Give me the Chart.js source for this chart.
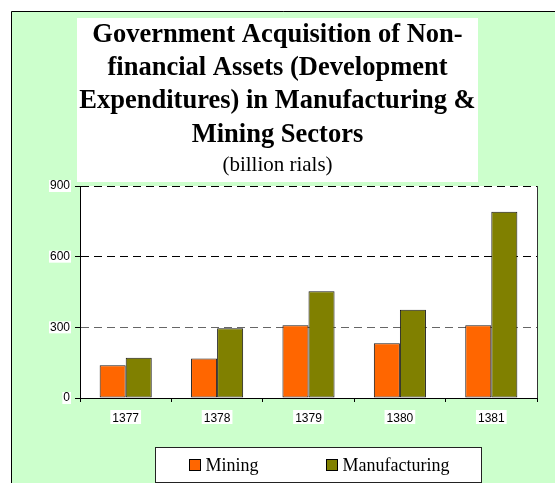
<!DOCTYPE html>
<html>
<head>
<meta charset="utf-8">
<script src="https://cdn.jsdelivr.net/npm/chart.js@4/dist/chart.umd.min.js"></script>
<style>
  html, body { margin: 0; padding: 0; background: #fff; }
  #wrap { width: 555px; height: 483px; position: relative; }
</style>
</head>
<body>
<div id="wrap"><canvas id="c" width="555" height="483"></canvas></div>
<script>
const categories = ["1377", "1378", "1379", "1380", "1381"];
const miningValues = [139, 168, 309, 232, 309];
const manufacturingValues = [171, 296, 453, 375, 791];
const yTicks = [0, 300, 600, 900];
const titleLines = ["Government Acquisition of Non-", "financial Assets (Development", "Expenditures) in Manufacturing &", "Mining Sectors"];
const subtitleText = "(billion rials)";
const seriesNames = ["Mining", "Manufacturing"];
const seriesColors = ["#FF6600", "#808000"];

const backgroundPlugin = {
  id: 'bg',
  beforeDraw(chart) {
    const ctx = chart.ctx;
    const ca = chart.chartArea;
    ctx.save();
    ctx.fillStyle = '#ffffff';
    ctx.fillRect(0, 0, chart.width, chart.height);
    ctx.fillStyle = '#CCFFCC';
    ctx.fillRect(11, 11, chart.width, chart.height);
    ctx.strokeStyle = '#000';
    ctx.lineWidth = 1;
    ctx.beginPath();
    ctx.moveTo(11.5, chart.height + 2);
    ctx.lineTo(11.5, 11.5);
    ctx.lineTo(chart.width + 2, 11.5);
    ctx.stroke();
    // title white box
    ctx.fillStyle = '#fff';
    ctx.fillRect(77, 18, 401, 164);
    // plot area
    ctx.fillRect(ca.left, ca.top, ca.right - ca.left, ca.bottom - ca.top);
    // tick label backgrounds
    ctx.font = '12px "Liberation Sans", Arial, sans-serif';
    const ys = chart.scales.y;
    ys.ticks.forEach((t, i) => {
      const label = String(t.value);
      const w = ctx.measureText(label).width;
      const py = ys.getPixelForTick(i);
      ctx.fillRect(ca.left - 10 - w - 1, py - 6, w + 2, 12);
    });
    const xs = chart.scales.x;
    xs.ticks.forEach((t, i) => {
      const label = categories[i];
      const w = ctx.measureText(label).width;
      const px = xs.getPixelForTick(i);
      ctx.fillRect(px - w / 2 - 2, 410, w + 4, 14);
    });
    ctx.restore();
  },
  afterDraw(chart) {
    const ctx = chart.ctx;
    const ca = chart.chartArea;
    ctx.save();
    // right border of plot
    ctx.strokeStyle = '#333';
    ctx.lineWidth = 1;
    ctx.beginPath();
    ctx.moveTo(Math.round(ca.right) + 0.5, ca.top);
    ctx.lineTo(Math.round(ca.right) + 0.5, ca.bottom);
    ctx.stroke();
    // legend
    const lx = 155, ly = 447, lw = 326, lh = 35;
    ctx.fillStyle = '#fff';
    ctx.fillRect(lx, ly, lw, lh);
    ctx.strokeStyle = '#222';
    ctx.strokeRect(lx + 0.5, ly + 0.5, lw, lh);
    ctx.font = '18px "Liberation Serif", "Times New Roman", serif';
    ctx.textBaseline = 'alphabetic';
    ctx.textAlign = 'left';
    const items = chart.data.datasets.map((d, i) => ({ text: d.label, color: d.backgroundColor, x: [189.5, 326.5][i] }));
    items.forEach(it => {
      ctx.fillStyle = it.color;
      ctx.fillRect(it.x, 459.5, 11, 11);
      ctx.strokeStyle = '#000';
      ctx.strokeRect(it.x, 459.5, 11, 11);
      ctx.fillStyle = '#000';
      ctx.fillText(it.text, it.x + 16, 471);
    });
    ctx.restore();
  }
};

new Chart(document.getElementById('c'), {
  type: 'bar',
  data: {
    labels: categories,
    datasets: [
      { label: seriesNames[0], data: miningValues, backgroundColor: seriesColors[0], borderColor: '#1a1a1a', borderWidth: 1, borderSkipped: false },
      { label: seriesNames[1], data: manufacturingValues, backgroundColor: seriesColors[1], borderColor: '#1a1a1a', borderWidth: 1, borderSkipped: false }
    ]
  },
  options: {
    responsive: false,
    animation: false,
    devicePixelRatio: 1,
    layout: { padding: { top: 18, left: 18, right: 18, bottom: 55 } },
    datasets: { bar: { categoryPercentage: 0.57, barPercentage: 1.0 } },
    plugins: {
      legend: { display: false },
      tooltip: { enabled: false },
      title: {
        display: true,
        text: titleLines,
        color: '#000',
        font: { family: '"Liberation Serif", "Times New Roman", serif', size: 26.5, weight: 'bold', lineHeight: '33.4px' },
        padding: { top: 0, bottom: 0 }
      },
      subtitle: {
        display: true,
        text: subtitleText,
        color: '#000',
        font: { family: '"Liberation Serif", "Times New Roman", serif', size: 21, weight: 'normal', lineHeight: '20px' },
        padding: { top: 4, bottom: 10.4 }
      }
    },
    scales: {
      x: {
        afterFit(scale) { scale.height = 30; },
        grid: { display: true, offset: true, drawOnChartArea: false, drawTicks: true, tickLength: 4, color: '#000' },
        border: { display: true, color: '#000', width: 1 },
        ticks: { color: '#000', font: { family: '"Liberation Sans", Arial, sans-serif', size: 12 }, padding: 9, maxRotation: 0 }
      },
      y: {
        min: 0, max: 900,
        afterFit(scale) { scale.width = 62; },
        afterBuildTicks(scale) { scale.ticks = yTicks.map(v => ({ value: v })); },
        grid: {
          display: true,
          drawOnChartArea: true,
          drawTicks: true,
          tickLength: 5,
          color: (c) => (c.tick && c.tick.value === 300 ? '#666' : '#000'),
          tickColor: '#000'
        },
        border: { display: true, color: '#000', width: 1, dash: [8, 5] },
        ticks: { color: '#000', font: { family: '"Liberation Sans", Arial, sans-serif', size: 12 }, padding: 5 }
      }
    }
  },
  plugins: [backgroundPlugin]
});
</script>
</body>
</html>
